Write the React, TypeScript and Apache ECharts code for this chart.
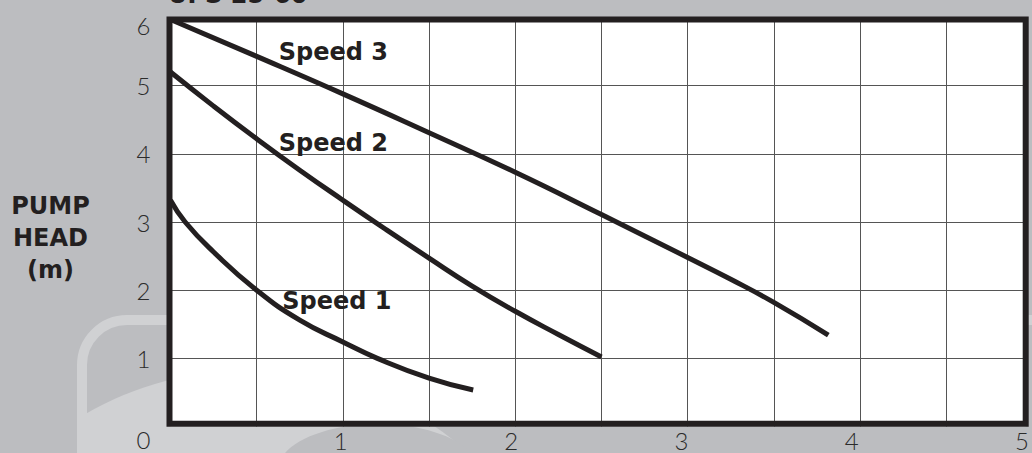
import React, { useEffect, useRef } from "react";
import * as echarts from "echarts";

const chartTitle = "UPS 25-60";
const yAxisName = "\nPUMP\nHEAD\n(m)";

// Flow (x) vs pump head in metres (y)
const speed1: [number, number][] = [
  [0, 3.32], [0.085, 3.0], [0.25, 2.56], [0.5, 2.0], [0.75, 1.56],
  [1, 1.24], [1.2, 1.0], [1.5, 0.71], [1.756, 0.535],
];
const speed2: [number, number][] = [
  [0, 5.2], [0.25, 4.7], [0.5, 4.22], [0.75, 3.76], [1, 3.32],
  [1.25, 2.89], [1.5, 2.47], [1.75, 2.06], [2, 1.69], [2.25, 1.35], [2.5, 1.02],
];
const speed3: [number, number][] = [
  [0, 5.97], [0.5, 5.43], [1, 4.88], [1.5, 4.31], [2, 3.73],
  [2.5, 3.11], [3, 2.48], [3.25, 2.16], [3.5, 1.82], [3.816, 1.34],
];
const speedLabels = [
  { name: "Speed 3", value: [0.625, 5.49] },
  { name: "Speed 2", value: [0.625, 4.16] },
  { name: "Speed 1", value: [0.645, 1.84] },
];

const INK = "#231f20";
const BG = "#bcbdc0";
const WM = "#d0d1d3";
const BOLD = "'DejaVu Sans', sans-serif";
const THIN = "Lato, 'DejaVu Sans', sans-serif";

export default function App() {
  const ref = useRef<HTMLDivElement>(null);
  useEffect(() => {
    document.body.style.margin = "0";
    const chart = echarts.init(ref.current!, null, { renderer: "svg" });
    const curve = (name: string, data: [number, number][]) => ({
      name,
      type: "line",
      xAxisIndex: 0,
      yAxisIndex: 0,
      data,
      smooth: 0.5,
      showSymbol: false,
      symbol: "none",
      lineStyle: { color: INK, width: 5, cap: "butt" },
      z: 3,
    });
    const digit = { fontSize: 24, fontFamily: THIN, fontWeight: 300, color: "#2b2b2b" };
    chart.setOption({
      animation: false,
      backgroundColor: BG,
      title: {
        text: chartTitle,
        left: 168,
        top: -17,
        padding: 0,
        textStyle: { fontFamily: BOLD, fontSize: 24, fontWeight: "bold", color: INK },
      },
      graphic: {
        elements: [
          { type: "circle", z: -10, shape: { cx: 250, cy: 700, r: 330 }, style: { fill: WM } },
          { type: "rect", z: -9, shape: { x: 0, y: 300, width: 80, height: 160 }, style: { fill: BG } },
          { type: "ellipse", z: -9, shape: { cx: 378, cy: 470, rx: 100, ry: 46 }, style: { fill: BG } },
          {
            type: "rect",
            z: -8,
            shape: { x: 82, y: 320, width: 1100, height: 400, r: 45 },
            style: { fill: "none", stroke: WM, lineWidth: 10 },
          },
        ],
      },
      grid: [
        { left: 170.5, top: 17.5, width: 855.2, height: 409, show: true, backgroundColor: "#ffffff", borderWidth: 0 },
        { left: 169.5, top: 19.5, width: 856.2, height: 404.2, show: true, backgroundColor: "transparent", borderColor: INK, borderWidth: 6, z: 5 },
        { left: 170.5, top: 17.5, width: 862, height: 409, show: false },
      ],
      xAxis: [
        {
          type: "value", gridIndex: 0, min: 0, max: 4.961, interval: 0.5,
          axisLine: { show: false }, axisTick: { show: false }, axisLabel: { show: false },
          splitLine: { show: true, showMinLine: false, showMaxLine: false, lineStyle: { color: "#555555", width: 1 } },
        },
        { type: "value", gridIndex: 1, min: 0, max: 1, show: false },
        {
          type: "value", gridIndex: 2, min: 0, max: 5, interval: 1,
          axisLine: { show: false }, axisTick: { show: false }, splitLine: { show: false },
          axisLabel: {
            margin: 2, ...digit,
            formatter: (v: number) => (v === 0 ? "" : String(v)),
          },
        },
      ],
      yAxis: [
        {
          type: "value", gridIndex: 0, min: 0, max: 6, interval: 1,
          axisLine: { show: false }, axisTick: { show: false },
          splitLine: { show: true, showMinLine: false, showMaxLine: false, lineStyle: { color: "#555555", width: 1 } },
          axisLabel: {
            margin: 20, ...digit,
            formatter: (v: number) => (v === 0 ? "{z|0}" : v === 6 ? "{s|6}" : "{n|" + v + "}"),
            rich: {
              z: { ...digit, padding: [25, 0, 0, 0] },
              s: { ...digit, padding: [16, 0, 0, 0] },
              n: { ...digit },
            },
          },
          name: yAxisName,
          nameLocation: "middle",
          nameRotate: 0,
          nameGap: 120,
          nameTextStyle: {
            fontFamily: BOLD, fontSize: 24, fontWeight: "bold", color: INK,
            align: "center", verticalAlign: "middle", lineHeight: 32,
          },
        },
        { type: "value", gridIndex: 1, min: 0, max: 1, show: false },
        { type: "value", gridIndex: 2, min: 0, max: 6, show: false },
      ],
      series: [
        curve("Speed 3", speed3),
        curve("Speed 2", speed2),
        curve("Speed 1", speed1),
        {
          type: "scatter",
          xAxisIndex: 0,
          yAxisIndex: 0,
          data: speedLabels,
          symbolSize: 1,
          itemStyle: { color: "rgba(0,0,0,0)", opacity: 1 },
          z: 4,
          label: {
            show: true, position: "right", distance: 0, formatter: "{b}", opacity: 1,
            fontFamily: BOLD, fontSize: 24, fontWeight: "bold", color: INK,
          },
        },
      ],
    });
    return () => chart.dispose();
  }, []);
  return <div ref={ref} style={{ width: 1032, height: 453 }} />;
}
